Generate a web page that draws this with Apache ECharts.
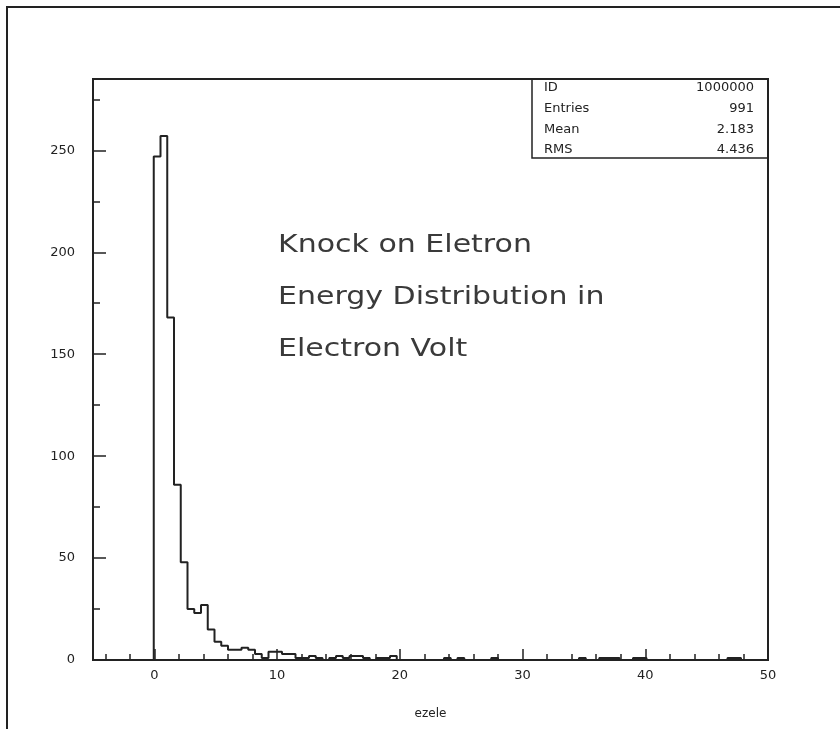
<!DOCTYPE html>
<html>
<head>
<meta charset="utf-8">
<script src="https://cdn.jsdelivr.net/npm/echarts@6.0.0/dist/echarts.min.js"></script>
<style>
  html, body { margin: 0; padding: 0; background: #fff; }
  #chart { width: 840px; height: 729px; }
</style>
</head>
<body>
<div id="chart"></div>
<script>
// histogram "ezele": 100 bins between -5 and 50
const binLow = -5
const binHigh = 50
const counts = [
  0, 0, 0, 0, 0, 0, 0, 0, 0, 247,
  257, 168, 86, 48, 25, 23, 27, 15, 9, 7,
  5, 5, 6, 5, 3, 1, 4, 4, 3, 3,
  1, 1, 2, 1, 0, 1, 2, 1, 2, 2,
  1, 0, 1, 1, 2, 0, 0, 0, 0, 0,
  0, 0, 1, 0, 1, 0, 0, 0, 0, 1,
  0, 0, 0, 0, 0, 0, 0, 0, 0, 0,
  0, 0, 1, 0, 0, 1, 1, 1, 0, 0,
  1, 1, 0, 0, 0, 0, 0, 0, 0, 0,
  0, 0, 0, 0, 1, 1, 0, 0, 0, 0
]
const xMajor = [0, 10, 20, 30, 40, 50]
const xMinor = [-4, -2, 2, 4, 6, 8, 12, 14, 16, 18, 22, 24, 26, 28, 32, 34, 36, 38, 42, 44, 46, 48]
const yMajor = [0, 50, 100, 150, 200, 250]
const yMinor = [25, 75, 125, 175, 225, 275]
const yTop = 285
const statNames = ['ID', 'Entries', 'Mean', 'RMS']
const statValues = ['1000000', '991', '2.183', '4.436']
const noteLines = ['Knock on Eletron', 'Energy Distribution in', 'Electron Volt']

const ink = '#222'
const font = 'DejaVu Sans'

// step outline: left edge of every bin, plus the closing edge
const binWidth = (binHigh - binLow) / counts.length
const steps = counts.map((c, i) => [binLow + i * binWidth, c])
steps.push([binHigh, counts[counts.length - 1]])

const chart = echarts.init(document.getElementById('chart'))

// outer frame, stats box and the note
const graphics = [
  {
    type: 'rect',
    shape: { x: 7, y: 7, width: 900, height: 800 },
    style: { fill: 'none', stroke: ink, lineWidth: 2 },
    silent: true
  },
  {
    type: 'polyline',
    shape: { points: [[532, 79], [532, 158], [768, 158]] },
    style: { fill: 'none', stroke: ink, lineWidth: 1.5 },
    silent: true
  }
]
statNames.forEach((n, i) => {
  graphics.push({
    type: 'text', x: 544, y: 88 + i * 20.7,
    style: { text: n, font: '13px ' + font, fill: ink, verticalAlign: 'middle' }
  })
  graphics.push({
    type: 'text', x: 754, y: 88 + i * 20.7,
    style: { text: statValues[i], font: '13px ' + font, fill: ink, align: 'right', verticalAlign: 'middle' }
  })
})
noteLines.forEach((t, i) => {
  graphics.push({
    type: 'text', x: 278, y: 245 + i * 52, scaleX: 1.2,
    style: { text: t, font: '25px ' + font, fill: '#3a3a3a', verticalAlign: 'middle' }
  })
})

const option = {
  backgroundColor: '#fff',
  animation: false,
  grid: {
    left: 93, right: 72, top: 79, bottom: 69,
    show: true, borderColor: ink, borderWidth: 2
  },
  xAxis: [
    {
      type: 'value', min: binLow, max: binHigh, position: 'bottom',
      name: 'ezele', nameLocation: 'middle', nameGap: 48,
      nameTextStyle: { color: ink, fontSize: 12, fontFamily: font },
      axisLine: { onZero: false, lineStyle: { color: ink, width: 2 } },
      axisTick: { inside: true, length: 11, customValues: xMajor, lineStyle: { color: ink, width: 1.5 } },
      axisLabel: { customValues: xMajor, color: ink, fontSize: 13, fontFamily: font, margin: 9 },
      splitLine: { show: false }
    },
    {
      type: 'value', min: binLow, max: binHigh, position: 'bottom',
      axisLine: { show: false, onZero: false },
      axisTick: { inside: true, length: 6, customValues: xMinor, lineStyle: { color: ink, width: 1.5 } },
      axisLabel: { show: false },
      splitLine: { show: false }
    }
  ],
  yAxis: [
    {
      type: 'value', min: 0, max: yTop, position: 'left',
      axisLine: { show: true, onZero: false, lineStyle: { color: ink, width: 2 } },
      axisTick: { show: true, inside: true, length: 13, customValues: yMajor, lineStyle: { color: ink, width: 1.5 } },
      axisLabel: { customValues: yMajor, color: ink, fontSize: 13, fontFamily: font, margin: 18 },
      splitLine: { show: false }
    },
    {
      type: 'value', min: 0, max: yTop, position: 'left',
      axisLine: { show: false, onZero: false },
      axisTick: { show: true, inside: true, length: 7, customValues: yMinor, lineStyle: { color: ink, width: 1.5 } },
      axisLabel: { show: false },
      splitLine: { show: false }
    }
  ],
  series: [
    {
      type: 'line',
      step: 'end',
      data: steps,
      symbol: 'none',
      lineStyle: { color: ink, width: 2 },
      xAxisIndex: 0,
      yAxisIndex: 0
    }
  ],
  graphic: graphics
}

chart.setOption(option)
</script>
</body>
</html>
